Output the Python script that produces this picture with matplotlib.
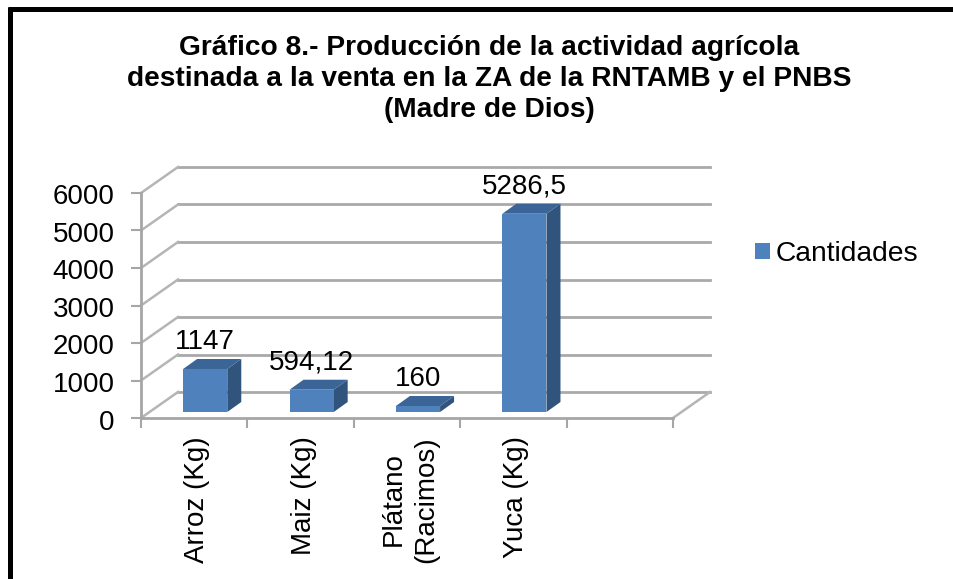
import matplotlib
matplotlib.use('Agg')
import matplotlib.pyplot as plt
from matplotlib.patches import Polygon
from matplotlib.transforms import ScaledTranslation
import numpy as np

plt.rcParams['font.family'] = ['Liberation Sans', 'DejaVu Sans']

# datos
categorias = ['Arroz (Kg)', 'Maiz (Kg)', 'Plátano\n(Racimos)', 'Yuca (Kg)']
cantidades = [1147, 594.12, 160, 5286.5]
etiquetas = ['1147', '594,12', '160', '5286,5']
ticks_y = [0, 1000, 2000, 3000, 4000, 5000, 6000]
serie = 'Cantidades'
titulo = 'Gráfico 8.- Producción de la actividad agrícola\ndestinada a la venta en la ZA de la RNTAMB y el PNBS\n(Madre de Dios)'

AZUL = '#4f81bd'
AZUL_TOP = '#3b6596'
AZUL_LADO = '#30547c'
GRIS = '#a6a6a6'
W, H = 954, 579
DPI = 100


def desplazado(ax, dx, dy):
    # desplazamiento en pixeles (para simular la profundidad 3D)
    return ax.transData + ScaledTranslation(dx / DPI, -dy / DPI, plt.gcf().dpi_scale_trans)


fig = plt.figure(figsize=(W / DPI, H / DPI), dpi=DPI)
ax = fig.add_axes([141 / W, 1 - 418 / H, (673 - 141) / W, 225 / H])
n_cat = 5
ax.set_xlim(0, n_cat)
ax.set_ylim(0, 6000)
for s in ax.spines.values():
    s.set_visible(False)
ax.patch.set_visible(False)

# paredes y grilla
prof_x, prof_y = 37, 26
fondo = desplazado(ax, prof_x, -prof_y)
for v in ticks_y:
    ax.plot([0, n_cat], [v, v], color='#a9a9a9', lw=2.0, transform=fondo, clip_on=False, zorder=1)
    a = ax.transData.transform((0, v))
    ax.plot([a[0], a[0] + prof_x], [a[1], a[1] + prof_y], color='#b5b5b5', lw=1.8,
            transform=None, clip_on=False, zorder=1)
# piso, lado derecho
a = ax.transData.transform((n_cat, 0))
ax.plot([a[0], a[0] + prof_x], [a[1], a[1] + prof_y], color='#b5b5b5', lw=1.8, transform=None, clip_on=False, zorder=1)

# ejes frontales
ax.plot([0, 0], [0, 6000], color=GRIS, lw=2.0, clip_on=False, zorder=2)
ax.plot([0, n_cat], [0, 0], color=GRIS, lw=2.0, clip_on=False, zorder=2)
ax.set_yticks(ticks_y)
ax.set_xticks(range(n_cat + 1))
ax.set_xticklabels([])
ax.tick_params(axis='y', length=7, width=1.5, color=GRIS, labelsize=20, pad=12)
ax.tick_params(axis='x', length=7, width=1.5, color=GRIS)
for lab in ax.get_yticklabels():
    lab.set_transform(lab.get_transform() + ScaledTranslation(0, -1.5 / DPI, fig.dpi_scale_trans))

# barras
x = np.arange(len(categorias)) + 0.5
ancho = 0.415
dx_barra, dy_barra = 11, -6
prof_bx, prof_by = 14, 10
tr_barra = desplazado(ax, dx_barra, dy_barra)
barras = ax.bar(x, cantidades, ancho, color=AZUL, transform=tr_barra, clip_on=False, zorder=4, label=serie)
for b, et in zip(barras, etiquetas):
    x0, x1 = b.get_x(), b.get_x() + b.get_width()
    y1 = b.get_height()
    p0 = tr_barra.transform((x0, 0))
    p1 = tr_barra.transform((x1, y1))
    lado = [(p1[0], p0[1]), (p1[0] + prof_bx, p0[1] + prof_by), (p1[0] + prof_bx, p1[1] + prof_by), (p1[0], p1[1])]
    techo = [(p0[0], p1[1]), (p0[0] + prof_bx, p1[1] + prof_by), (p1[0] + prof_bx, p1[1] + prof_by), (p1[0], p1[1])]
    ax.add_patch(Polygon(lado, closed=True, fc=AZUL_LADO, ec='none', transform=None, clip_on=False, zorder=3))
    ax.add_patch(Polygon(techo, closed=True, fc=AZUL_TOP, ec='none', transform=None, clip_on=False, zorder=3))
    ax.annotate(et, xy=(p0[0] + (p1[0] - p0[0]) / 2, p1[1] + prof_by), xycoords='figure pixels',
                xytext=(0, 4), textcoords='offset pixels', ha='center', va='bottom', fontsize=20, color='black', zorder=6)

# etiquetas del eje x
for xi, c in zip(x, categorias):
    ax.annotate(c, xy=(xi, 0), xycoords=('data', 'data'), xytext=(3, -18), textcoords='offset pixels',
                rotation=90, ha='center', va='top', fontsize=20, linespacing=1.3, multialignment='center')

ax.legend(loc='center left', bbox_to_anchor=(755 / W, 1 - 254 / H), bbox_transform=fig.transFigure,
          frameon=False, fontsize=20.3, handlelength=0.54, handleheight=0.54, handletextpad=0.2, borderpad=0, borderaxespad=0)

fig.text(489.5 / W, 1 - 35 / H, titulo, ha='center', va='top', fontsize=20.25, fontweight='bold',
         linespacing=1.25, color='black')

# marco (solo arriba e izquierda)
fig.add_artist(plt.Line2D([8 / W, 1], [1 - 8.5 / H, 1 - 8.5 / H], color='black', lw=3.6, solid_capstyle='butt'))
fig.add_artist(plt.Line2D([10.5 / W, 10.5 / W], [0, 1 - 6.5 / H], color='black', lw=3.6, solid_capstyle='butt'))

fig.savefig('out.png', dpi=DPI)
